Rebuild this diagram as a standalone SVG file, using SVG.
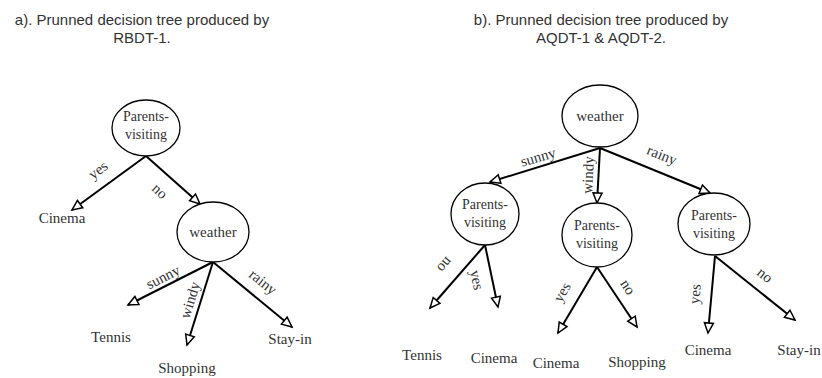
<svg xmlns="http://www.w3.org/2000/svg" width="822" height="378" viewBox="0 0 822 378">
<defs>
<marker id="arr" markerUnits="userSpaceOnUse" markerWidth="14" markerHeight="12" refX="11" refY="5" orient="auto" overflow="visible">
<path d="M1,0.5 L11,5 L1,9.5 z" fill="#fff" stroke="#000" stroke-width="1.5" stroke-linejoin="miter"/>
</marker>
<style>
.title{font-family:"Liberation Sans",Arial,sans-serif;font-size:15px;fill:#333;text-anchor:middle}
.t{font-family:"Liberation Serif","Times New Roman",serif;font-size:15px;fill:#333;text-anchor:middle}
.n{font-family:"Liberation Serif","Times New Roman",serif;font-size:14px;fill:#333;text-anchor:middle}
.node{fill:#fff;stroke:#000;stroke-width:1.3}
.edge{stroke:#000;stroke-width:2;fill:none;marker-end:url(#arr)}
</style>
</defs>
<rect width="822" height="378" fill="#fff"/>

<g id="titles">
<text class="title" x="142" y="25">a). Prunned decision tree produced by</text>
<text class="title" x="142" y="43">RBDT-1.</text>
<text class="title" x="601" y="25">b). Prunned decision tree produced by</text>
<text class="title" x="601" y="43">AQDT-1 &amp; AQDT-2.</text>
</g>

<g id="connectors">
<line class="edge" x1="146" y1="156" x2="72" y2="210"/>
<line class="edge" x1="146" y1="156" x2="200" y2="204"/>
<line class="edge" x1="213" y1="262" x2="128" y2="305"/>
<line class="edge" x1="213" y1="262" x2="187" y2="345"/>
<line class="edge" x1="213" y1="262" x2="292" y2="327"/>
<line class="edge" x1="600" y1="148" x2="490" y2="182"/>
<line class="edge" x1="600" y1="148" x2="597" y2="203"/>
<line class="edge" x1="600" y1="148" x2="710" y2="193"/>
<line class="edge" x1="485" y1="245" x2="430" y2="308"/>
<line class="edge" x1="485" y1="245" x2="498" y2="307"/>
<line class="edge" x1="597" y1="267" x2="558" y2="333"/>
<line class="edge" x1="597" y1="267" x2="637" y2="327"/>
<line class="edge" x1="715" y1="256" x2="708" y2="333"/>
<line class="edge" x1="715" y1="256" x2="795" y2="320"/>
<g id="edge-labels">
<text class="t" transform="translate(98,170) rotate(-37)" y="5">yes</text>
<text class="t" transform="translate(160,191) rotate(43)" y="5">no</text>
<text class="t" transform="translate(163,277) rotate(-27)" y="5">sunny</text>
<text class="t" transform="translate(190,300) rotate(-73)" y="5">windy</text>
<text class="t" transform="translate(263,282) rotate(39)" y="5">rainy</text>
<text class="t" transform="translate(538,157) rotate(-16)" y="5">sunny</text>
<text class="t" transform="translate(588,175) rotate(-87)" y="5">windy</text>
<text class="t" transform="translate(662,155) rotate(22)" y="5">rainy</text>
<text class="t" transform="translate(445,265) rotate(131)" y="5">no</text>
<text class="t" transform="translate(477,280) rotate(78)" y="5">yes</text>
<text class="t" transform="translate(562,292) rotate(-60)" y="5">yes</text>
<text class="t" transform="translate(628,287) rotate(56)" y="5">no</text>
<text class="t" transform="translate(695,294) rotate(-85)" y="5">yes</text>
<text class="t" transform="translate(765,275) rotate(38)" y="5">no</text>
</g>
</g>

<g id="a-parents">
<ellipse class="node" cx="146" cy="128" rx="34" ry="28"/>
<text class="n" x="146" y="121">Parents-</text>
<text class="n" x="146" y="139">visiting</text>
</g>
<g id="a-cinema"><text class="t" x="62" y="223">Cinema</text></g>
<g id="a-weather">
<ellipse class="node" cx="213" cy="232" rx="36" ry="30"/>
<text class="t" x="213" y="237">weather</text>
</g>
<g id="a-tennis"><text class="t" x="111" y="342">Tennis</text></g>
<g id="a-shopping"><text class="t" x="187" y="373">Shopping</text></g>
<g id="a-stayin"><text class="t" x="290" y="344">Stay-in</text></g>

<g id="b-weather">
<ellipse class="node" cx="600" cy="116" rx="38" ry="31"/>
<text class="t" x="600" y="121">weather</text>
</g>
<g id="b-parents-1">
<ellipse class="node" cx="485" cy="214" rx="34" ry="31"/>
<text class="n" x="485" y="209">Parents-</text>
<text class="n" x="485" y="227">visiting</text>
</g>
<g id="b-parents-2">
<ellipse class="node" cx="597" cy="235" rx="35" ry="32"/>
<text class="n" x="597" y="230">Parents-</text>
<text class="n" x="597" y="248">visiting</text>
</g>
<g id="b-parents-3">
<ellipse class="node" cx="714" cy="224" rx="36" ry="31"/>
<text class="n" x="714" y="220">Parents-</text>
<text class="n" x="714" y="238">visiting</text>
</g>
<g id="b-tennis"><text class="t" x="422" y="360">Tennis</text></g>
<g id="b-cinema-1"><text class="t" x="494" y="363">Cinema</text></g>
<g id="b-cinema-2"><text class="t" x="556" y="368">Cinema</text></g>
<g id="b-shopping"><text class="t" x="637" y="367">Shopping</text></g>
<g id="b-cinema-3"><text class="t" x="708" y="355">Cinema</text></g>
<g id="b-stayin"><text class="t" x="799" y="355">Stay-in</text></g>
</svg>
